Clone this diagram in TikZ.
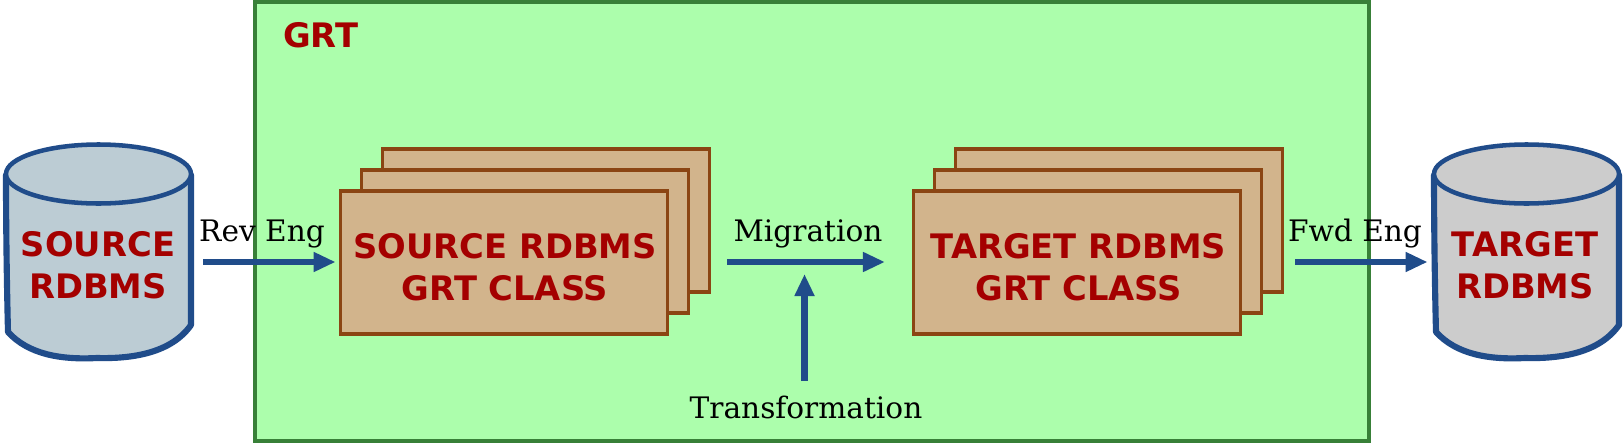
\documentclass[tikz,border=0pt]{standalone}
\usepackage{fontspec}
\setmainfont{DejaVu Serif}
\newfontfamily\lblfont{DejaVu Sans}[BoldFont={DejaVu Sans Bold}]
\usetikzlibrary{arrows.meta,calc}
\definecolor{grtfill}{HTML}{ACFEAC}
\definecolor{grtline}{HTML}{388038}
\definecolor{tanfill}{HTML}{D2B48C}
\definecolor{tanline}{HTML}{8B4513}
\definecolor{flowblue}{HTML}{204C8A}
\definecolor{srcfill}{HTML}{BCCCD4}
\definecolor{tgtfill}{HTML}{CCCCCC}
\definecolor{lblred}{HTML}{A40000}
\tikzset{
  x=0.75pt,y=-0.75pt,
  grtbox/.style={draw=grtline,fill=grtfill,line width=3.2pt},
  sheet/.style={draw=tanline,fill=tanfill,line width=2.6pt,minimum width=245pt,minimum height=107pt,inner sep=0pt},
  boldlabel/.style={font=\lblfont\bfseries\fontsize{25.3}{31.5}\selectfont,text=lblred,align=center,inner sep=0pt},
  flowlabel/.style={font=\fontsize{22.2}{26}\selectfont,text=black,inner sep=0pt,anchor=base},
  flow/.style={draw=flowblue,line width=4.8pt,-{Triangle[length=16.5pt,width=14pt]}},
  dbarea/.style={minimum width=143pt,minimum height=163pt,inner sep=0pt},
  pics/database/.style={code={
    \path[draw=flowblue,fill=#1,line width=4.6pt,line join=round]
      (6,175) .. controls (6,232) and (7,292) .. (8,332)
      .. controls (28,354) and (60,360) .. (97,358)
      .. controls (135,359) and (172,352) .. (191,325)
      .. controls (191,282) and (191,222) .. (191,175) -- cycle;
    \path[draw=flowblue,fill=#1,line width=3.4pt]
      (98.5,174) ellipse [x radius=92.5,y radius=29.5];
  }}
}
\begin{document}
\begin{tikzpicture}
\useasboundingbox (0,0) rectangle (1624,443);
\fill[white] (0,0) rectangle (1624,443);
\draw[grtbox] (255,2) rectangle (1369,441);
\node[boldlabel,anchor=base west] (grt) at (283,47) {GRT};

\pic at (0,0) {database=srcfill};
\pic at (1428,0) {database=tgtfill};
\node[dbarea] (srcdb) at (98.5,251) {};
\node[dbarea] (tgtdb) at (1526.5,251) {};
\node[boldlabel] (srclabel) at (98,265) {SOURCE\\RDBMS};
\node[boldlabel] (tgtlabel) at (1525,265) {TARGET\\RDBMS};

\node[sheet] (srcback) at (546,220.5) {};
\node[sheet] (srcmid) at (525,241.5) {};
\node[sheet] (srcfront) at (504,262.5) {};
\node[boldlabel] (srcfrontlabel) at (505,267) {SOURCE RDBMS\\GRT CLASS};
\node[sheet] (tgtback) at (1119,220.5) {};
\node[sheet] (tgtmid) at (1098,241.5) {};
\node[sheet] (tgtfront) at (1077,262.5) {};
\node[boldlabel] (tgtfrontlabel) at (1078.5,267) {TARGET RDBMS\\GRT CLASS};

\node[flowlabel] (rev) at (262,241) {Rev Eng};
\node[flowlabel] (mig) at (808,241) {Migration};
\node[flowlabel] (fwd) at (1355,241) {Fwd Eng};
\node[flowlabel] (trans) at (806,418) {Transformation};

\coordinate (migstart) at ($(srcfront.east)+(58,-0.5)$);
\coordinate (migend) at ($(tgtfront.west)+(-27,-0.5)$);
\coordinate (transtart) at (804.5,381);
\coordinate (tranend) at (804.5,274);
\coordinate (revy) at (0,262);
\coordinate (fwdy) at (0,262);

\draw[flow,shorten <=6.8pt,shorten >=2.5pt] (srcdb.east |- revy) -- (srcfront.west |- revy);
\draw[flow] (migstart) -- (migend);
\draw[flow] (transtart) -- (tranend);
\draw[flow,shorten <=40pt,shorten >=2.5pt] (tgtfront.east |- fwdy) -- (tgtdb.west |- fwdy);
\end{tikzpicture}
\end{document}
